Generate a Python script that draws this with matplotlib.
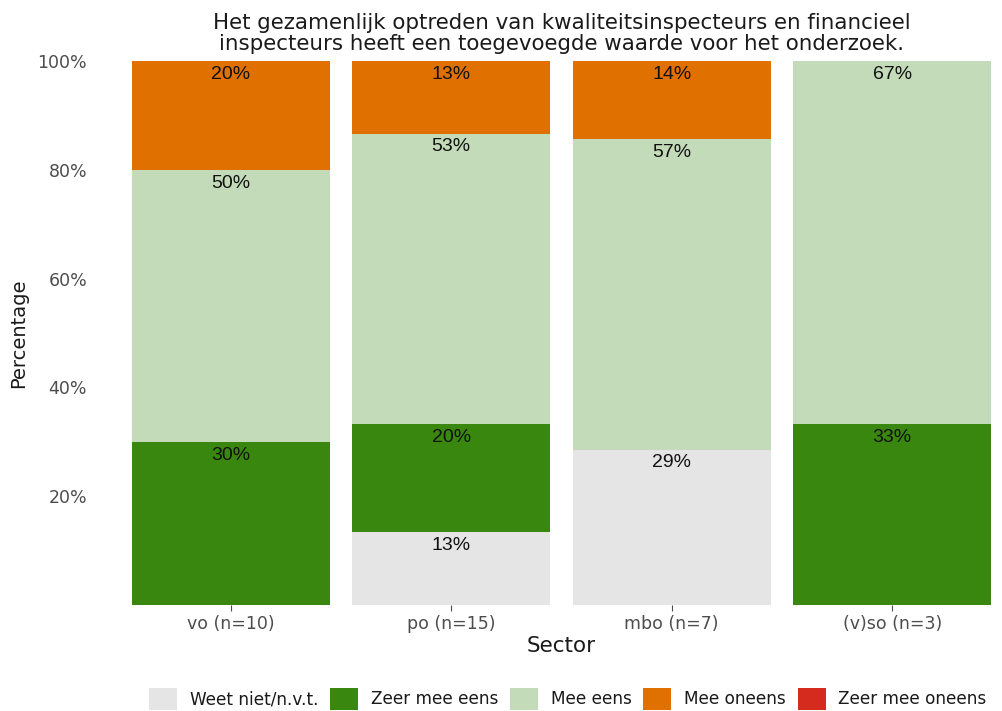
import matplotlib.pyplot as plt
import numpy as np
from matplotlib.patches import Patch

sectors = ['vo (n=10)', 'po (n=15)', 'mbo (n=7)', '(v)so (n=3)']
answers = ['Weet niet/n.v.t.', 'Zeer mee eens', 'Mee eens', 'Mee oneens', 'Zeer mee oneens']
colors = ['#E5E5E5', '#3A870F', '#C3DBB9', '#E07000', '#D52B1E']

weet_niet = [0, 13.33, 28.57, 0]
zeer_eens = [30, 20, 0, 33.33]
mee_eens = [50, 53.33, 57.14, 66.67]
mee_oneens = [20, 13.33, 14.29, 0]
zeer_oneens = [0, 0, 0, 0]

series = [weet_niet, zeer_eens, mee_eens, mee_oneens, zeer_oneens]

fig = plt.figure(figsize=(10.03, 7.11), dpi=100)
ax = fig.add_axes([120.5 / 1003, 106 / 711, 882 / 1003, 544 / 711])

x = np.arange(len(sectors))
bottom = np.zeros(len(sectors))
for vals, col in zip(series, colors):
    vals = np.array(vals)
    ax.bar(x, vals, width=0.9, bottom=bottom, color=col, linewidth=0)
    top = bottom + vals
    for xi, v, t in zip(x, vals, top):
        if v > 0:
            ax.annotate(f'{v:.0f}%', (xi, t), xytext=(0, -3.5), textcoords='offset points',
                        ha='center', va='top', fontsize=14, family='Liberation Sans', color='#111111')
    bottom = top

ax.set_xlim(-0.5, 3.5)
ax.set_ylim(0, 100)
ax.set_xticks(x)
ax.set_xticklabels(sectors, fontsize=12.5, color='#4D4D4D')
ax.set_yticks([20, 40, 60, 80, 100])
ax.set_yticklabels(['20%', '40%', '60%', '80%', '100%'], fontsize=12.5, color='#4D4D4D')
ax.tick_params(axis='y', length=0, pad=24)
ax.tick_params(axis='x', length=4, color='#4D4D4D', pad=3)
for s in ax.spines.values():
    s.set_visible(False)

ax.set_xlabel('Sector', fontsize=15.5, labelpad=2, color='#1A1A1A')
ax.set_ylabel('Percentage', fontsize=14, labelpad=7, color='#1A1A1A')
ax.set_title('Het gezamenlijk optreden van kwaliteitsinspecteurs en financieel\n'
             'inspecteurs heeft een toegevoegde waarde voor het onderzoek.',
             fontsize=15.4, linespacing=1.05, pad=8, color='#1A1A1A')

handles = [Patch(facecolor=c, edgecolor='none') for c in colors]
fig.legend(handles, answers, loc='lower center', bbox_to_anchor=(0.566, -0.02), ncol=5,
           frameon=False, fontsize=12.2, handlelength=1.65, handleheight=1.65,
           handletextpad=0.75, columnspacing=0.7, labelcolor='#1A1A1A')

fig.savefig('out.png', dpi=100)
